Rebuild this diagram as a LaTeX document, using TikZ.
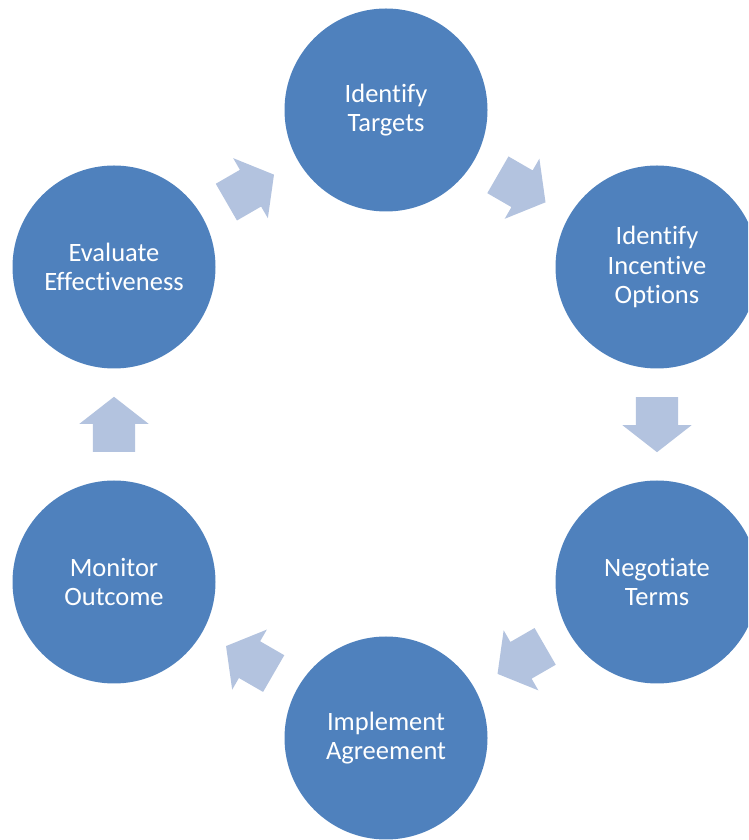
\documentclass[tikz,border=0pt]{standalone}
\usepackage{fontspec}
\setmainfont{Carlito}[Ligatures=CommonOff]
\usetikzlibrary{
    shapes.arrows,
    positioning,
    calc,
}
\definecolor{stageblue}{RGB}{79,129,189}
\definecolor{flowblue}{RGB}{179,195,223}

\begin{document}
\begin{tikzpicture}[
    x=1pt, y=1pt,
    stage/.style={circle, fill=stageblue, draw=none, align=center, minimum size=203pt, inner sep=0pt, text=white, font=\fontsize{26.5}{29.5}\selectfont},
    flow/.style={single arrow, fill=flowblue, draw=none, anchor=tail, inner xsep=0pt, inner ysep=21pt, minimum height=55pt, single arrow head extend=13.5pt, single arrow tip angle=104},
    ]

\useasboundingbox (0,0) rectangle (748,840);
\clip (0,0) rectangle (748,840);

\node[stage] at (386,730) (targets) {Identify\\Targets};
\node[stage] at (657,573) (options) {Identify\\Incentive\\Options};
\node[stage] at (657,258) (terms) {Negotiate\\Terms};
\node[stage] at (386,102) (implement) {Implement\\Agreement};
\node[stage] at (114,258) (monitor) {Monitor\\Outcome};
\node[stage] at (114,573) (evaluate) {Evaluate\\Effectiveness};

% arrows between the stages, tail half their length before the midpoint
\node[flow, rotate=30] at ($(evaluate)!0.5!(targets)!27.5pt!(evaluate)$) (f1) {};
\node[flow, rotate=-30] at ($(targets)!0.5!(options)!27.5pt!(targets)$) (f2) {};
\node[flow, rotate=-90] at ($(options)!0.5!(terms)!27.5pt!(options)$) (f3) {};
\node[flow, rotate=210] at ($(terms)!0.5!(implement)!27.5pt!(terms)$) (f4) {};
\node[flow, rotate=150] at ($(implement)!0.5!(monitor)!27.5pt!(implement)$) (f5) {};
\node[flow, rotate=90] at ($(monitor)!0.5!(evaluate)!27.5pt!(monitor)$) (f6) {};

\end{tikzpicture}
\end{document}
